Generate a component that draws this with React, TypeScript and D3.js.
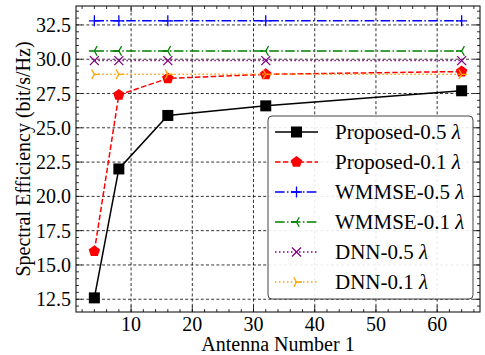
import React from 'react';
import * as d3 from 'd3';

// antenna counts on the x axis
const antennas = [4, 8, 16, 32, 64];

// spectral efficiency (bit/s/Hz)
const proposed05 = [12.6, 22.0, 25.9, 26.6, 27.7];
const proposed01 = [16.0, 27.4, 28.6, 28.9, 29.1];
const wmmse05 = [32.8, 32.8, 32.8, 32.8, 32.8];
const wmmse01 = [30.6, 30.6, 30.6, 30.6, 30.6];
const dnn05 = [29.9, 29.9, 29.9, 29.9, 29.9];
const dnn01 = [28.9, 28.9, 28.9, 28.9, 28.9];

const xTicks = [10, 20, 30, 40, 50, 60];
const yTicks = [12.5, 15.0, 17.5, 20.0, 22.5, 25.0, 27.5, 30.0, 32.5];

const W = 485;
const H = 355;
const margin = { top: 6, right: 5, bottom: 43, left: 76 };
const FONT = '"Liberation Serif", "Times New Roman", serif';

type MarkerKind = 'square' | 'pentagon' | 'plus' | 'tri_left' | 'x' | 'tri_right';

interface Series {
  label: string;
  values: number[];
  color: string;
  dash: string;
  marker: MarkerKind;
}

const series: Series[] = [
  { label: 'Proposed-0.5 ', values: proposed05, color: '#000000', dash: '', marker: 'square' },
  { label: 'Proposed-0.1 ', values: proposed01, color: '#ff0000', dash: '5.5,2.4', marker: 'pentagon' },
  { label: 'WMMSE-0.5 ', values: wmmse05, color: '#0000ff', dash: '9.6,2.4,1.5,2.4', marker: 'plus' },
  { label: 'WMMSE-0.1 ', values: wmmse01, color: '#008000', dash: '9.6,2.4,1.5,2.4', marker: 'tri_left' },
  { label: 'DNN-0.5 ', values: dnn05, color: '#800080', dash: '1.5,2.5', marker: 'x' },
  { label: 'DNN-0.1 ', values: dnn01, color: '#ffa500', dash: '1.5,2.5', marker: 'tri_right' },
];

const textStyle: React.CSSProperties = { fontFamily: FONT };

function Marker({ kind, x, y, color }: { kind: MarkerKind; x: number; y: number; color: string }) {
  const t = `translate(${x},${y})`;
  if (kind === 'square') {
    return <rect x={x - 5.5} y={y - 5.5} width={11} height={11} fill={color} />;
  }
  if (kind === 'pentagon') {
    const r = 6;
    const pts = d3.range(5).map(i => {
      const a = -Math.PI / 2 + (i * 2 * Math.PI) / 5;
      return `${r * Math.cos(a)},${r * Math.sin(a)}`;
    });
    return <polygon transform={t} points={pts.join(' ')} fill={color} />;
  }
  let d = '';
  if (kind === 'plus') d = 'M-5.5,0H5.5M0,-5.5V5.5';
  if (kind === 'x') d = 'M-4.5,-4.5L4.5,4.5M-4.5,4.5L4.5,-4.5';
  if (kind === 'tri_left') d = 'M0,0L-5.5,0M0,0L2.75,-4.8M0,0L2.75,4.8';
  if (kind === 'tri_right') d = 'M0,0L5.5,0M0,0L-2.75,-4.8M0,0L-2.75,4.8';
  return <path transform={t} d={d} stroke={color} strokeWidth={1.3} fill="none" />;
}

export default function App() {
  const innerW = W - margin.left - margin.right;
  const innerH = H - margin.top - margin.bottom;
  const x = d3.scaleLinear().domain([1, 67]).range([margin.left, margin.left + innerW]);
  const y = d3.scaleLinear().domain([11.57, 33.88]).range([margin.top + innerH, margin.top]);

  const x0 = margin.left;
  const x1 = margin.left + innerW;
  const y0 = margin.top + innerH;
  const y1 = margin.top;

  const xMinor = d3.range(2, 67, 2).filter(v => v % 10 !== 0);
  const yMinor = d3.range(12, 34, 0.5).filter(v => Math.abs(v / 2.5 - Math.round(v / 2.5)) > 1e-6);

  const line = d3.line<number>()
    .x((_, i) => x(antennas[i]))
    .y(d => y(d));

  // legend layout
  const lg = { x: 268, y: 116, w: 205, h: 183, row: 30 };

  return (
    <svg width={W} height={H} style={{ position: 'absolute', left: 0, top: 0, background: '#fff' }}>
      {/* grid */}
      <g stroke="#000" strokeWidth={0.8} strokeDasharray="3,2.2">
        {xTicks.map(t => <line key={'gx' + t} x1={x(t)} x2={x(t)} y1={y0} y2={y1} />)}
        {yTicks.map(t => <line key={'gy' + t} x1={x0} x2={x1} y1={y(t)} y2={y(t)} />)}
      </g>

      {/* series */}
      {series.map(s => (
        <g key={s.label}>
          <path d={line(s.values) || ''} fill="none" stroke={s.color} strokeWidth={1.5}
            strokeDasharray={s.dash || undefined} />
          {s.values.map((v, i) => (
            <Marker key={i} kind={s.marker} x={x(antennas[i])} y={y(v)} color={s.color} />
          ))}
        </g>
      ))}

      {/* ticks, all four sides, pointing inward */}
      <g stroke="#000" strokeWidth={0.8}>
        {xTicks.map(t => (
          <g key={'xt' + t}>
            <line x1={x(t)} x2={x(t)} y1={y0} y2={y0 - 6} />
            <line x1={x(t)} x2={x(t)} y1={y1} y2={y1 + 6} />
          </g>
        ))}
        {xMinor.map(t => (
          <g key={'xm' + t}>
            <line x1={x(t)} x2={x(t)} y1={y0} y2={y0 - 3} />
            <line x1={x(t)} x2={x(t)} y1={y1} y2={y1 + 3} />
          </g>
        ))}
        {yTicks.map(t => (
          <g key={'yt' + t}>
            <line x1={x0} x2={x0 + 6} y1={y(t)} y2={y(t)} />
            <line x1={x1} x2={x1 - 6} y1={y(t)} y2={y(t)} />
          </g>
        ))}
        {yMinor.map(t => (
          <g key={'ym' + t}>
            <line x1={x0} x2={x0 + 3} y1={y(t)} y2={y(t)} />
            <line x1={x1} x2={x1 - 3} y1={y(t)} y2={y(t)} />
          </g>
        ))}
      </g>

      {/* legend */}
      <rect x={lg.x} y={lg.y} width={lg.w} height={lg.h} rx={4} fill="#fff" fillOpacity={0.9}
        stroke="#444" strokeWidth={1} />
      {series.map((s, i) => {
        const cy = lg.y + 16 + i * lg.row;
        return (
          <g key={'lg' + s.label}>
            <line x1={lg.x + 7} x2={lg.x + 50} y1={cy} y2={cy} stroke={s.color} strokeWidth={1.5}
              strokeDasharray={s.dash || undefined} />
            <Marker kind={s.marker} x={lg.x + 28.5} y={cy} color={s.color} />
            <text x={lg.x + 67} y={cy + 7} fontSize={21} fill="#000" style={textStyle}>
              {s.label}<tspan fontStyle="italic">λ</tspan>
            </text>
          </g>
        );
      })}

      {/* frame */}
      <rect x={x0} y={y1} width={innerW} height={innerH} fill="none" stroke="#000" strokeWidth={1} />

      {/* tick labels */}
      {xTicks.map(t => (
        <text key={'xl' + t} x={x(t)} y={y0 + 19} fontSize={20} textAnchor="middle" fill="#000"
          style={textStyle}>{t}</text>
      ))}
      {yTicks.map(t => (
        <text key={'yl' + t} x={x0 - 5} y={y(t) + 7} fontSize={20} textAnchor="end" fill="#000"
          style={textStyle}>
          {d3.format('.1f')(t)}
        </text>
      ))}

      {/* axis labels */}
      <text x={(x0 + x1) / 2} y={H - 4} fontSize={20} textAnchor="middle" fill="#000"
        style={textStyle}>Antenna Number 1</text>
      <text transform={`translate(30,${(y0 + y1) / 2}) rotate(-90)`} fontSize={20} textAnchor="middle"
        fill="#000" style={textStyle}>
        Spectral Efficiency (bit/s/Hz)
      </text>
    </svg>
  );
}
